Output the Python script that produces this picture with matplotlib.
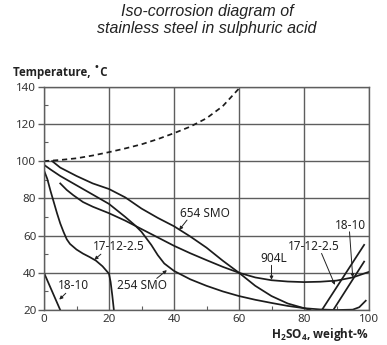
import matplotlib
matplotlib.use("Agg")
import matplotlib.pyplot as plt
from matplotlib.ticker import MultipleLocator

# ---------------------------------------------------------------------------
# Data (H2SO4 weight-%, temperature degC)
# ---------------------------------------------------------------------------
boil_x = [0, 5, 10, 15, 20, 25, 30, 35, 40, 45, 50, 55, 60]
boil_y = [100, 100.6, 101.5, 103, 104.8, 106.8, 109, 111.8, 115, 118.5, 123, 129.5, 139]

smo654_x = [2.5, 5, 10, 15, 20, 25, 30, 35, 40, 45, 50, 55, 60, 65, 70, 75, 80, 82]
smo654_y = [100, 96.5, 92, 88, 85, 80.5, 74.5, 69.5, 65, 59.5, 53.5, 46.5, 40, 33, 27.5, 23.5, 21, 20]

smo254_x = [0, 2, 5, 10, 15, 20, 25, 28, 30, 33, 35, 37, 40, 45, 50, 55, 60, 65, 70, 75, 80, 85, 90, 95, 97, 99]
smo254_y = [98, 95.5, 92, 87, 82, 77, 70, 65.5, 62, 55, 49.5, 45, 41, 36.5, 33, 30, 27.5, 25.5, 23.8, 22.2, 21, 20.3, 20, 20.2, 21.5, 25]

l904_x = [5, 7, 9, 12, 15, 20, 25, 30, 35, 40, 45, 50, 55, 60, 65, 70, 75, 80, 85, 90, 95, 100]
l904_y = [88, 84.5, 81.7, 78, 75.5, 72, 68, 63.5, 59, 54.5, 50.5, 46.8, 43.2, 40, 37.5, 36, 35.3, 35, 35.2, 35.8, 37.5, 40.5]

s17_left_x = [0, 1, 2, 3, 4, 5, 6, 7, 8, 9, 10, 12, 14, 16, 18, 19, 20, 20.5, 21, 21.5]
s17_left_y = [95, 90.5, 84, 78, 72, 66.5, 62, 58, 55.5, 54, 52.5, 50.3, 48.5, 46.5, 43.5, 41.5, 39.5, 35, 28, 20]
s17_right_x = [85.5, 98.5]
s17_right_y = [20, 55]

s18_left_x = [0, 2.5, 5]
s18_left_y = [40, 30, 20]
s18_right_x = [89, 98.5]
s18_right_y = [20, 46]

# label text, text position, arrow tail, arrow tip
labels = [
    ("654 SMO", (49.5, 72), (44, 68.3), (41.6, 63)),
    ("254 SMO", (30.3, 33.3), (34.7, 37), (37.8, 41.4)),
    ("17-12-2.5", (23, 54), (17.5, 50), (15.5, 47)),
    ("18-10", (9, 33.3), (6.7, 29), (4.7, 25.6)),
    ("904L", (70.6, 47.7), (70, 44), (70, 36.2)),
    ("17-12-2.5", (83, 54), (85.4, 50.4), (89.5, 33.5)),
    ("18-10", (94.2, 65.6), (94, 62), (95, 37.5)),
]

LINE = "#1c1c1c"
GRID = "#5e5e5e"
FONT = "Noto Sans"
BOLD_FONT = ["Open Sans", "Lato", "DejaVu Sans"]

plt.rcParams["mathtext.fontset"] = "custom"
plt.rcParams["mathtext.rm"] = "Open Sans:bold"
plt.rcParams["mathtext.bf"] = "Open Sans:bold"

fig = plt.figure(figsize=(3.87, 3.45), dpi=100)
ax = fig.add_axes([0.1137, 0.1014, 0.8398, 0.6475])

ax.plot(boil_x, boil_y, color=LINE, lw=1.25, dashes=(3, 2.2))
for xs, ys in [(smo654_x, smo654_y), (smo254_x, smo254_y), (l904_x, l904_y),
               (s17_left_x, s17_left_y), (s17_right_x, s17_right_y),
               (s18_left_x, s18_left_y), (s18_right_x, s18_right_y)]:
    ax.plot(xs, ys, color=LINE, lw=1.25, solid_joinstyle="round")

for text, pos, tail, tip in labels:
    ax.text(pos[0], pos[1], text, ha="center", va="center",
            family=FONT, fontsize=8.5, color="#222222")
    ax.annotate("", xy=tip, xytext=tail,
                arrowprops=dict(arrowstyle="-|>", lw=0.7, color="#222222",
                                mutation_scale=5, shrinkA=0, shrinkB=0))

ax.set_xlim(0, 100)
ax.set_ylim(20, 140)
ax.xaxis.set_major_locator(MultipleLocator(20))
ax.yaxis.set_major_locator(MultipleLocator(20))
ax.xaxis.set_minor_locator(MultipleLocator(10))
ax.yaxis.set_minor_locator(MultipleLocator(10))
ax.grid(True, which="major", color=GRID, lw=1.0)
ax.set_axisbelow(True)
for sp in ax.spines.values():
    sp.set_color(GRID)
    sp.set_linewidth(1.0)

ax.tick_params(axis="y", which="major", direction="out", length=4, width=1.0,
               color=GRID, pad=1.5, labelsize=8.3, labelcolor="#333333")
ax.tick_params(axis="x", which="major", direction="out", length=0,
               pad=3, labelsize=8.3, labelcolor="#333333")
ax.tick_params(which="minor", direction="in", length=3, width=0.8, color=GRID)
for lab in ax.get_xticklabels() + ax.get_yticklabels():
    lab.set_family(FONT)

fig.text(0.535, 0.942, "Iso-corrosion diagram of\nstainless steel in sulphuric acid",
         ha="center", va="center", style="italic", family="Liberation Sans",
         fontsize=11.5, color="#222222", linespacing=1.1)
fig.text(0.033, 0.792, "Temperature, \u02daC", ha="left", va="center",
         family=BOLD_FONT, fontweight="bold", fontsize=8.3, color="#222222")
fig.text(0.953, 0.006, r"H$_{2}$SO$_{4}$, weight-%", ha="right", va="bottom",
         family=BOLD_FONT, fontweight="bold", fontsize=8.5, color="#222222")

fig.savefig("out.png", dpi=100)
